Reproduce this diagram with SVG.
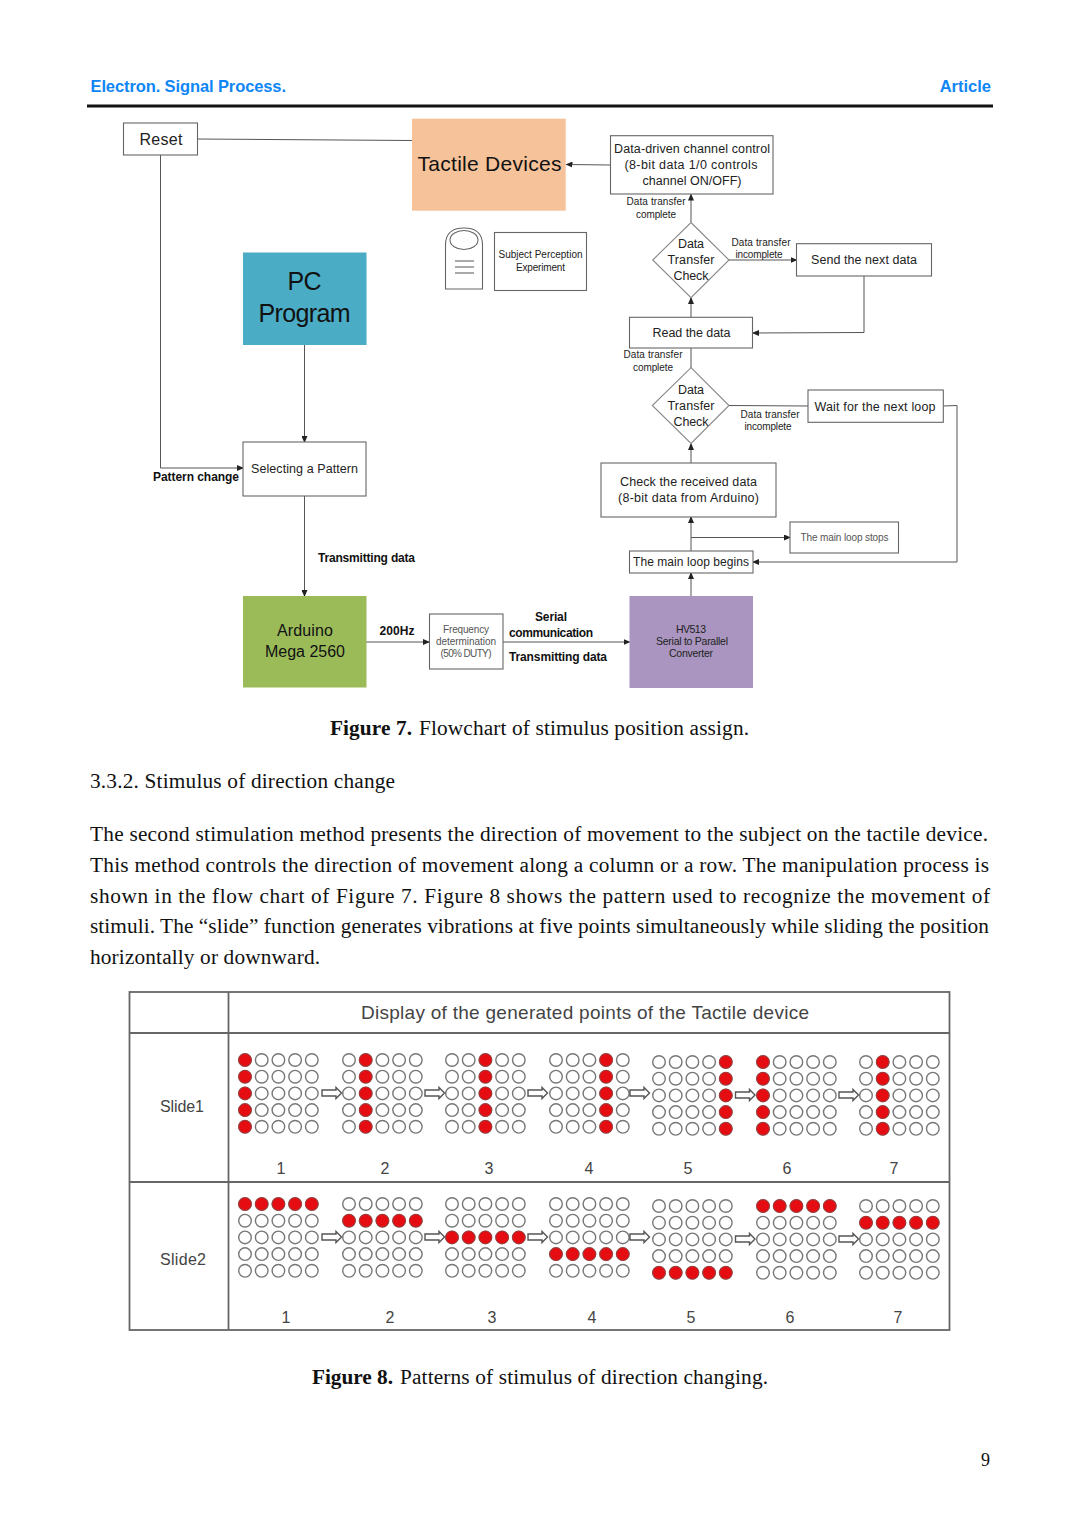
<svg xmlns="http://www.w3.org/2000/svg" width="1080" height="1527" viewBox="0 0 1080 1527">
<style>
text{font-family:"Liberation Sans","Noto Sans CJK JP",sans-serif;fill:#222}
.m{text-anchor:middle}
.b{font-weight:700;font-size:12px;fill:#111}
.s{font-size:10px}
.t{font-size:12.5px}
.body{font-family:"Liberation Serif",serif;font-size:21.3px;fill:#111}
.hd{font-weight:700;font-size:16.5px;fill:#0f86f5}
.box{fill:#fff;stroke:#666;stroke-width:1.1}
.ln{fill:none;stroke:#555;stroke-width:1}
.arr{marker-end:url(#ah)}
.tb{fill:none;stroke:#666;stroke-width:1.8}
.gt{fill:#444}
.o{fill:#fff;stroke:#777;stroke-width:1.4}
.r{fill:#e60d12;stroke:#a33;stroke-width:1}
.ba{fill:#fff;stroke:#555;stroke-width:1.4}
</style>
<defs>
<marker id="ah" markerUnits="userSpaceOnUse" markerWidth="7" markerHeight="6" refX="6" refY="3" orient="auto"><path d="M0 0L7 3L0 6Z" fill="#222"/></marker>
<g id="row"><circle cx="0" cy="0" r="6.3"/><circle cx="16.7" cy="0" r="6.3"/><circle cx="33.4" cy="0" r="6.3"/><circle cx="50.1" cy="0" r="6.3"/><circle cx="66.8" cy="0" r="6.3"/></g>
<g id="col"><circle cx="0" cy="0" r="6.3"/><circle cx="0" cy="16.7" r="6.3"/><circle cx="0" cy="33.4" r="6.3"/><circle cx="0" cy="50.1" r="6.3"/><circle cx="0" cy="66.8" r="6.3"/></g>
<g id="grid" class="o"><use href="#row"/><use href="#row" y="16.7"/><use href="#row" y="33.4"/><use href="#row" y="50.1"/><use href="#row" y="66.8"/></g>
<path id="ba" d="M0 -3H14V-5.500L19.500 0L14 5.500V3H0Z"/>
</defs>

<g id="header">
<text class="hd" x="90.500" y="92" textLength="195.500">Electron. Signal Process.</text>
<text class="hd" x="991" y="92" text-anchor="end">Article</text>
<rect x="87" y="104.500" width="906" height="3" fill="#111"/>
</g>

<g id="connectors">
<path class="ln" d="M197 139L412 140.500"/>
<path class="ln arr" d="M160.500 155V468H243"/>
<path class="ln arr" d="M610 165L566.500 164.500"/>
<path class="ln arr" d="M691 222V194.500"/>
<path class="ln arr" d="M729 260H796.500"/>
<path class="ln arr" d="M864 276V332.500L753 333"/>
<path class="ln arr" d="M691 317V298"/>
<path class="ln" d="M691 348V368"/>
<path class="ln" d="M729 405.500L808 406"/>
<path class="ln arr" d="M943 406L957 405.500V562H753"/>
<path class="ln arr" d="M691 463V444"/>
<path class="ln arr" d="M691 551V517"/>
<path class="ln arr" d="M691 537.500H790"/>
<path class="ln arr" d="M691 596V573"/>
<path class="ln arr" d="M304.500 345V442"/>
<path class="ln arr" d="M304.500 496V596"/>
<path class="ln arr" d="M366 642H429"/>
<path class="ln arr" d="M503 642H629.500"/>
</g>

<g id="reset"><rect class="box" x="123.500" y="123" width="74" height="32"/><text class="m" x="161" y="144.500" font-size="16" textLength="43">Reset</text></g>
<g id="tactile"><rect x="412" y="118.700" width="153.700" height="92" fill="#f6c299"/><text class="m" x="489.500" y="171" font-size="21" textLength="144" style="fill:#111">Tactile Devices</text></g>
<g id="person"><path class="box" d="M445.500 289V245Q445.500 228 464 228Q482.500 228 482.500 245V289Z"/><ellipse class="box" cx="464" cy="240" rx="14" ry="9.500"/><path class="ln" d="M455 261H474M455 267H474M455 273H474"/></g>
<g id="subject"><rect class="box" x="494.500" y="232.500" width="92" height="58"/><text class="m s" x="540.500" y="258" textLength="84">Subject Perception</text><text class="m s" x="540.500" y="271" textLength="49">Experiment</text></g>
<g id="pc"><rect x="243" y="252.500" width="123.500" height="92.500" fill="#4bacc6"/><text class="m" x="304.500" y="290" font-size="25" style="fill:#111" textLength="34">PC</text><text class="m" x="304.500" y="322" font-size="25" style="fill:#111" textLength="92">Program</text></g>
<g id="control"><rect class="box" x="610.500" y="135.700" width="162.500" height="58.300"/><text class="m t" x="692" y="153" textLength="156">Data-driven channel control</text><text class="m t" x="691" y="169" textLength="133">(8-bit data 1/0 controls</text><text class="m t" x="692" y="185" textLength="99">channel ON/OFF)</text></g>
<g id="check1"><path class="box" d="M691 222.500L729 260L691 297.700L652.700 260Z" style="stroke:#888"/><text class="m t" x="691" y="248" textLength="26">Data</text><text class="m t" x="691" y="264" textLength="47">Transfer</text><text class="m t" x="691" y="280" textLength="35">Check</text></g>
<g id="send"><rect class="box" x="796.500" y="243.700" width="135" height="32.300"/><text class="m t" x="864" y="263.500" textLength="106">Send the next data</text></g>
<g id="read"><rect class="box" x="629.500" y="317.300" width="123" height="30.700"/><text class="m t" x="691.500" y="337" textLength="78">Read the data</text></g>
<g id="check2"><path class="box" d="M691 367.700L729 405.500L691 443.500L652.300 405.500Z" style="stroke:#888"/><text class="m t" x="691" y="393.500" textLength="26">Data</text><text class="m t" x="691" y="409.500" textLength="47">Transfer</text><text class="m t" x="691" y="425.500" textLength="35">Check</text></g>
<g id="wait"><rect class="box" x="808" y="390" width="135.300" height="32.300"/><text class="m t" x="875" y="410.500" textLength="121">Wait for the next loop</text></g>
<g id="checkdata"><rect class="box" x="601" y="463" width="175" height="54"/><text class="m t" x="688.500" y="486" textLength="137">Check the received data</text><text class="m t" x="688.500" y="502" textLength="141">(8-bit data from Arduino)</text></g>
<g id="stops"><rect class="box" x="790" y="522" width="108.500" height="31"/><text class="m s" x="844.500" y="541" textLength="88" style="fill:#555">The main loop stops</text></g>
<g id="begins"><rect class="box" x="629.500" y="551" width="123.500" height="22"/><text class="m" x="691" y="566" font-size="12" textLength="116">The main loop begins</text></g>
<g id="selecting"><rect class="box" x="243" y="442" width="123" height="54"/><text class="m" x="304.500" y="473" font-size="12.500" textLength="107">Selecting a Pattern</text></g>
<g id="arduino"><rect x="243" y="596" width="123.500" height="91.500" fill="#9bbb59"/><text class="m" x="305" y="636" font-size="16" style="fill:#111" textLength="56">Arduino</text><text class="m" x="305" y="657" font-size="16" style="fill:#111" textLength="80">Mega 2560</text></g>
<g id="frequency"><rect class="box" x="429.500" y="614" width="73.500" height="55"/><text class="m s" x="466" y="633" style="fill:#555" textLength="46">Frequency</text><text class="m s" x="466" y="645" style="fill:#555" textLength="60">determination</text><text class="m s" x="466" y="657" style="fill:#555" textLength="51">(50% DUTY)</text></g>
<g id="hv513"><rect x="629.500" y="596" width="123.500" height="92" fill="#a995bf"/><text class="m" x="691" y="633" font-size="10.500" textLength="30">HV513</text><text class="m" x="692" y="645" font-size="10.500" textLength="72">Serial to Parallel</text><text class="m" x="691" y="657" font-size="10.500" textLength="44">Converter</text></g>

<g id="labels">
<text class="m s" x="656" y="205" textLength="59">Data transfer</text><text class="m s" x="656" y="218" textLength="40">complete</text>
<text class="m s" x="761" y="246" textLength="59">Data transfer</text><text class="m s" x="759" y="258" textLength="47">incomplete</text>
<text class="m s" x="653" y="358" textLength="59">Data transfer</text><text class="m s" x="653" y="371" textLength="40">complete</text>
<text class="m s" x="770" y="418" textLength="59">Data transfer</text><text class="m s" x="768" y="430" textLength="47">incomplete</text>
<text class="b" x="153" y="481" textLength="86">Pattern change</text>
<text class="b" x="318" y="562" textLength="97">Transmitting data</text>
<text class="b m" x="397" y="635" textLength="35">200Hz</text>
<text class="b m" x="551" y="621" textLength="32">Serial</text>
<text class="b m" x="551" y="637" textLength="84">communication</text>
<text class="b" x="509" y="661" textLength="98">Transmitting data</text>
</g>

<g id="captions">
<text class="body" x="330" y="735" textLength="82" style="font-weight:700">Figure 7.</text>
<text class="body" x="419" y="735" textLength="330">Flowchart of stimulus position assign.</text>
<text class="body" x="90" y="788" textLength="305">3.3.2. Stimulus of direction change</text>
<text class="body" x="90" y="840.500" textLength="898">The second stimulation method presents the direction of movement to the subject on the tactile device.</text>
<text class="body" x="90" y="871.500" textLength="899">This method controls the direction of movement along a column or a row. The manipulation process is</text>
<text class="body" x="90" y="902.500" textLength="900">shown in the flow chart of Figure 7. Figure 8 shows the pattern used to recognize the movement of</text>
<text class="body" x="90" y="933" textLength="899">stimuli. The “slide” function generates vibrations at five points simultaneously while sliding the position</text>
<text class="body" x="90" y="964" textLength="230">horizontally or downward.</text>
<text class="body" x="312" y="1384" textLength="81" style="font-weight:700">Figure 8.</text>
<text class="body" x="400" y="1384" textLength="368">Patterns of stimulus of direction changing.</text>
<text class="body" x="990" y="1466" text-anchor="end" style="font-size:18px">9</text>
</g>

<g id="table">
<rect class="tb" x="129.500" y="992" width="820" height="338"/>
<path class="tb" d="M228.500 992V1330M129.500 1033H949.500M129.500 1182H949.500"/>
<text class="gt m" x="585" y="1019" font-size="19" textLength="448">Display of the generated points of the Tactile device</text>
<text class="gt m" x="182" y="1112" font-size="16" textLength="44">Slide1</text>
<text class="gt m" x="183" y="1265" font-size="16" textLength="46">Slide2</text>
<g font-size="16">
<text class="gt m" x="281" y="1174">1</text><text class="gt m" x="385" y="1174">2</text><text class="gt m" x="489" y="1174">3</text><text class="gt m" x="589" y="1174">4</text><text class="gt m" x="688" y="1174">5</text><text class="gt m" x="787" y="1174">6</text><text class="gt m" x="894" y="1174">7</text>
<text class="gt m" x="286" y="1323">1</text><text class="gt m" x="390" y="1323">2</text><text class="gt m" x="492" y="1323">3</text><text class="gt m" x="592" y="1323">4</text><text class="gt m" x="691" y="1323">5</text><text class="gt m" x="790" y="1323">6</text><text class="gt m" x="898" y="1323">7</text>
</g>
</g>

<g id="slide1">
<use href="#grid" x="245" y="1060"/><use href="#grid" x="349" y="1060"/><use href="#grid" x="452" y="1060"/><use href="#grid" x="556" y="1060"/><use href="#grid" x="659" y="1062"/><use href="#grid" x="763" y="1062"/><use href="#grid" x="866" y="1062"/>
<g class="r"><use href="#col" x="245" y="1060"/><use href="#col" x="365.700" y="1060"/><use href="#col" x="485.400" y="1060"/><use href="#col" x="606.100" y="1060"/><use href="#col" x="725.800" y="1062"/><use href="#col" x="763" y="1062"/><use href="#col" x="882.700" y="1062"/></g>
<g class="ba"><use href="#ba" x="322" y="1093"/><use href="#ba" x="425" y="1093"/><use href="#ba" x="528" y="1093"/><use href="#ba" x="630" y="1093"/><use href="#ba" x="735.500" y="1095"/><use href="#ba" x="839" y="1095"/></g>
</g>
<g id="slide2">
<use href="#grid" x="245" y="1204"/><use href="#grid" x="349" y="1204"/><use href="#grid" x="452" y="1204"/><use href="#grid" x="556" y="1204"/><use href="#grid" x="659" y="1206"/><use href="#grid" x="763" y="1206"/><use href="#grid" x="866" y="1206"/>
<g class="r"><use href="#row" x="245" y="1204"/><use href="#row" x="349" y="1220.700"/><use href="#row" x="452" y="1237.400"/><use href="#row" x="556" y="1254.100"/><use href="#row" x="659" y="1272.800"/><use href="#row" x="763" y="1206"/><use href="#row" x="866" y="1222.700"/></g>
<g class="ba"><use href="#ba" x="322" y="1237"/><use href="#ba" x="425" y="1237"/><use href="#ba" x="528" y="1237"/><use href="#ba" x="630" y="1237"/><use href="#ba" x="735.500" y="1239"/><use href="#ba" x="839" y="1239"/></g>
</g>
</svg>
